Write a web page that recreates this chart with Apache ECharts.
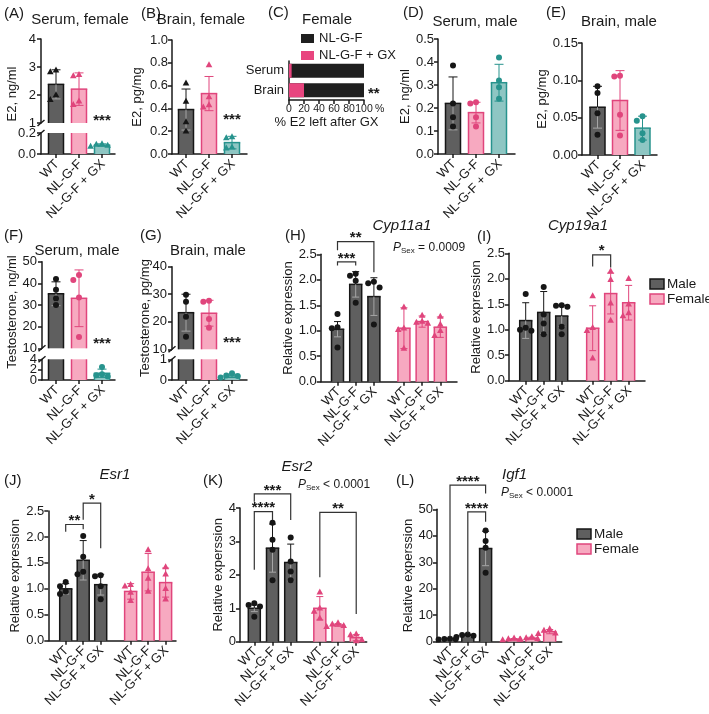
<!DOCTYPE html>
<html>
<head>
<meta charset="utf-8">
<script src="https://cdn.jsdelivr.net/npm/echarts@6/dist/echarts.min.js"></script>
<style>
  html, body { margin: 0; padding: 0; background: #fff; }
  #chart { width: 709px; height: 714px; }
</style>
</head>
<body>
<div id="chart"></div>
<script>
const groups3 = ['WT', 'NL-G-F', 'NL-G-F + GX'];
const groups6 = ['WT', 'NL-G-F', 'NL-G-F + GX', 'WT', 'NL-G-F', 'NL-G-F + GX'];

// (A) serum E2, female, ng/ml
const aMean = [2.38, 2.21, 0.085];
const aSD = [0.52, 0.58, 0.012];
const aPts = [[2.88, 2.82, 2.0, 1.83], [2.72, 2.68, 1.78, 1.65], [0.095, 0.09, 0.082, 0.072]];
const aStars = [[2, 1.21, '***']];

// (B) brain E2, female, pg/mg
const bMean = [0.39, 0.53, 0.10];
const bSD = [0.18, 0.15, 0.055];
const bPts = [[0.62, 0.46, 0.28, 0.20], [0.78, 0.50, 0.43, 0.41], [0.15, 0.14, 0.06, 0.05]];
const bStars = [[2, 0.325, '***']];

// (C) % E2 left after GX, female
const cCats = ['Serum', 'Brain'];
const cNL = [100, 100];
const cGX = [3.5, 20];
const cTicks = [0, 20, 40, 60, 80, 100];
const cStars = [[113, 1, '**']];

// (D) serum E2, male, ng/ml
const dMean = [0.22, 0.18, 0.31];
const dSD = [0.115, 0.045, 0.08];
const dPts = [[0.385, 0.22, 0.16, 0.12], [0.225, 0.22, 0.16, 0.12], [0.42, 0.32, 0.29, 0.24]];

// (E) brain E2, male, pg/mg
const eMean = [0.064, 0.073, 0.036];
const eSD = [0.028, 0.04, 0.016];
const ePts = [[0.092, 0.083, 0.056, 0.027], [0.106, 0.105, 0.054, 0.026], [0.052, 0.046, 0.029, 0.02]];

// (F) serum testosterone, male, ng/ml
const fMean = [35.2, 33.1, 1.3];
const fSD = [5.5, 13.1, 0.8];
const fPts = [[42, 37, 33, 30], [43.8, 41.5, 33.5, 15.2], [2.5, 1.1, 0.9, 0.7]];
const fStars = [[2, 13.8, '***']];

// (G) brain testosterone, male, pg/mg
const gMean = [23.3, 23.1, 0.2];
const gSD = [6.7, 4.7, 0.08];
const gPts = [[29.8, 27.3, 21.8, 14.6], [27.6, 27.3, 21.0, 17.8], [0.33, 0.22, 0.19, 0.12]];
const gStars = [[2, 13.4, '***']];

// (H) Cyp11a1, male x3 then female x3
const hMean = [1.03, 1.91, 1.67, 1.05, 1.18, 1.07];
const hSD = [0.15, 0.25, 0.37, 0.40, 0.11, 0.20];
const hPts = [[1.33, 1.07, 1.05, 0.67], [2.12, 2.08, 1.98, 1.55], [1.96, 1.93, 1.85, 1.12],
              [1.46, 1.05, 1.02, 0.65], [1.30, 1.18, 1.16, 1.14], [1.28, 1.12, 1.0, 0.9]];
const hSig = [[0, 1, 2.35, 2.28, 2.28, '***'], [0, 2, 2.75, 2.58, 2.15, '**']];

// (I) Cyp19a1
const iMean = [1.18, 1.34, 1.27, 1.03, 1.71, 1.53];
const iSD = [0.35, 0.41, 0.21, 0.44, 0.40, 0.34];
const iPts = [[1.70, 1.04, 1.0, 0.98], [1.84, 1.30, 1.12, 0.91], [1.48, 1.47, 1.45, 1.06, 0.91],
              [1.66, 1.04, 0.98, 0.44], [2.15, 1.98, 1.52, 1.18], [2.0, 1.5, 1.33, 1.27]];
const iSig = [[3, 4, 2.47, 2.24, 2.22, '*']];

// (J) Esr1
const jMean = [1.0, 1.55, 1.08, 0.95, 1.32, 1.12];
const jSD = [0.10, 0.38, 0.20, 0.15, 0.36, 0.28];
const jPts = [[1.13, 1.05, 0.95, 0.9], [2.02, 1.62, 1.33, 1.28], [1.26, 1.24, 1.05, 0.8],
              [1.08, 1.05, 0.93, 0.77], [1.75, 1.38, 1.2, 0.95], [1.42, 1.28, 1.0, 0.8]];
const jSig = [[0, 1, 2.24, 2.1, 2.15, '**'], [1, 2, 2.65, 2.33, 1.78, '*']];

// (K) Esr2
const kMean = [1.0, 2.8, 2.37, 1.0, 0.5, 0.12];
const kSD = [0.10, 0.72, 0.55, 0.35, 0.04, 0.09];
const kPts = [[1.15, 1.1, 1.05, 0.75], [3.56, 3.05, 2.75, 1.84], [3.12, 2.4, 2.1, 1.84],
              [1.48, 1.0, 0.9, 0.7], [0.56, 0.52, 0.48, 0.45], [0.22, 0.2, 0.05, 0.02]];
const kSig = [[0, 1, 3.89, 2.15, 3.64, '****'], [0, 2, 4.42, 4.19, 3.64, '***'], [3, 5, 3.87, 1.93, 0.83, '**']];

// (L) Igf1
const lMean = [1.0, 2.3, 35.2, 0.9, 1.3, 3.8];
const lSD = [0.15, 0.4, 6.5, 0.3, 0.4, 0.8];
const lPts = [[1.1, 1.0, 0.9, 0.8], [2.7, 2.5, 2.2, 1.8], [42, 38, 35.5, 26],
              [1.3, 1.0, 0.8, 0.6], [1.8, 1.4, 1.1, 0.9], [4.8, 4.2, 3.2, 3.0]];
const lSig = [[0, 2, 59.1, 1.9, 56, '****'], [1, 2, 49, 3.2, 45.3, '****']];

const FONT = '"Liberation Sans", Arial, Helvetica, sans-serif';
const INK = '#1a1a1a';
const ST = {
  wt: {fill: '#5f5f5f', line: '#161616', inner: '#a5a5a5', pt: '#161616'},
  nl: {fill: '#f7a9c0', line: '#e0457c', inner: '#e0457c', pt: '#e0457c'},
  gx: {fill: '#8ec6c3', line: '#27938d', inner: '#27938d', pt: '#27938d'}
};
const triStyles = [ST.wt, ST.nl, ST.gx];
const sexStyles = [ST.wt, ST.wt, ST.wt, ST.nl, ST.nl, ST.nl];

const grids = [], xAxes = [], yAxes = [], series = [], graphics = [];

function txt(x, y, text, o = {}) {
  const align = o.align || 'left';
  graphics.push({
    type: 'text', x, y, rotation: o.rot || 0, silent: true,
    style: {
      text, font: o.font || `15px ${FONT}`, fill: INK,
      align, textAlign: align, verticalAlign: 'middle', textVerticalAlign: 'middle',
      rich: o.rich
    }
  });
}

// text element for custom series
function label(x, y, text, font, align, rot) {
  return {type: 'text', x, y, rotation: rot || 0,
          style: {text, font, fill: INK, align, textAlign: align, verticalAlign: 'middle', textVerticalAlign: 'middle'}};
}

function symbol(shape, x, y, r, color) {
  if (shape === 'triangle') {
    return {type: 'polygon', shape: {points: [[x, y - r * 1.25], [x - r * 1.1, y + r * 0.75], [x + r * 1.1, y + r * 0.75]]},
            style: {fill: color}};
  }
  return {type: 'circle', shape: {cx: x, cy: y, r}, style: {fill: color}};
}

const starFont = `bold 15px ${FONT}`;
const tickFont = `13px ${FONT}`;

function addPanel(p) {
  const gap = p.gap || 1;
  const pos = p.mean.map((_, i) => i < 3 ? i : i - 1 + gap);
  const xMin = -(p.firstC - p.axisX) / p.S;
  const xMax = xMin + (p.endX - p.axisX) / p.S;
  const broken = p.segs.length > 1;
  const segOf = v => p.segs.find(s => v >= s.min && v <= s.max);
  const pxY = v => {
    const s = segOf(v) || p.segs[0];
    return s.top + (s.max - v) / (s.max - s.min) * s.height;
  };
  const step = p.r * 1.9;
  const jitter = p.pts.map(list => {
    const placed = [];
    return list.map(v => {
      const y = pxY(v);
      let d = [0, -1, 1, -2, 2].map(k => k * step)
        .find(c => placed.every(q => Math.hypot(q[0] - c, q[1] - y) >= step));
      if (d === undefined) d = 0;
      placed.push([d, y]);
      return d;
    });
  });

  p.segs.forEach((s, k) => {
    const gi = grids.length;
    const bottom = k === p.segs.length - 1;
    grids.push({left: p.axisX, top: s.top, width: p.endX - p.axisX, height: s.height});
    xAxes.push({
      gridIndex: gi, type: 'value', min: xMin, max: xMax,
      axisLine: {show: bottom, onZero: false, lineStyle: {color: INK, width: 1.5}},
      axisTick: {show: bottom, customValues: pos, length: 4, lineStyle: {color: INK, width: 1.5}},
      axisLabel: {show: false},
      splitLine: {show: false}
    });
    yAxes.push({
      gridIndex: gi, type: 'value', min: s.min, max: s.max, interval: s.interval,
      axisLine: {show: true, onZero: false, lineStyle: {color: INK, width: 1.5}},
      axisTick: {show: true, length: 4, lineStyle: {color: INK, width: 1.5}},
      axisLabel: {show: !broken, color: INK, fontSize: 13, fontFamily: FONT, margin: 4,
                  showMinLabel: true, showMaxLabel: true, formatter: v => v.toFixed(s.dec)},
      splitLine: {show: false},
      name: (k === 0 && p.yName) ? p.yName : '',
      nameLocation: 'middle', nameGap: p.nameGap || 25,
      nameTextStyle: {color: INK, fontSize: 13, fontFamily: FONT}
    });
    const xy = {xAxisIndex: gi, yAxisIndex: gi, silent: true};

    // bars
    series.push({
      type: 'custom', ...xy, z: 2,
      data: p.mean.map((m, i) => [pos[i], m]),
      renderItem: (params, api) => {
        const v = api.value(1);
        if (v <= s.min) return;
        const st = p.styles[params.dataIndex];
        const clipped = v > s.max;
        const c = api.coord([api.value(0), Math.min(v, s.max)]);
        const b = api.coord([api.value(0), s.min]);
        const l = c[0] - p.barW / 2, r = c[0] + p.barW / 2;
        const ls = {stroke: st.line, lineWidth: 1.5};
        const ch = [
          {type: 'rect', shape: {x: l, y: c[1], width: p.barW, height: b[1] - c[1]}, style: {fill: st.fill}},
          {type: 'line', shape: {x1: l, y1: b[1], x2: l, y2: c[1]}, style: ls},
          {type: 'line', shape: {x1: r, y1: b[1], x2: r, y2: c[1]}, style: ls}
        ];
        if (!clipped) ch.push({type: 'line', shape: {x1: l - 0.75, y1: c[1], x2: r + 0.75, y2: c[1]}, style: ls});
        return {type: 'group', children: ch};
      }
    });

    // error bars (mean +/- SD)
    series.push({
      type: 'custom', ...xy, z: 3,
      data: p.mean.map((m, i) => [pos[i], m, p.sd[i]]),
      renderItem: (params, api) => {
        const x = api.value(0), m = api.value(1), sd = api.value(2);
        if (m < s.min || m > s.max) return;
        const st = p.styles[params.dataIndex];
        const cm = api.coord([x, m]);
        const hiV = Math.min(m + sd, s.max), loV = Math.max(m - sd, s.min);
        const ch = api.coord([x, hiV]), cl = api.coord([x, loV]);
        const w = p.capW / 2;
        const out = [
          {type: 'line', shape: {x1: cm[0], y1: cm[1], x2: ch[0], y2: ch[1]}, style: {stroke: st.line, lineWidth: 1}},
          {type: 'line', shape: {x1: cm[0], y1: cm[1], x2: cl[0], y2: cl[1]}, style: {stroke: st.inner, lineWidth: 1}}
        ];
        if (m + sd <= s.max) out.push({type: 'line', shape: {x1: ch[0] - w, y1: ch[1], x2: ch[0] + w, y2: ch[1]}, style: {stroke: st.line, lineWidth: 1}});
        if (m - sd >= s.min) out.push({type: 'line', shape: {x1: cl[0] - w, y1: cl[1], x2: cl[0] + w, y2: cl[1]}, style: {stroke: st.inner, lineWidth: 1}});
        return {type: 'group', children: out};
      }
    });

    // individual animals
    const ptData = [];
    p.pts.forEach((list, i) => list.forEach((v, j) => ptData.push([pos[i], v, i, jitter[i][j]])));
    series.push({
      type: 'custom', ...xy, z: 4,
      data: ptData,
      renderItem: (params, api) => {
        const v = api.value(1);
        if (v < s.min || v > s.max) return;
        const i = api.value(2);
        const c = api.coord([api.value(0), v]);
        return symbol(p.shapes[i], c[0] + api.value(3), c[1], p.r, p.styles[i].pt);
      }
    });

    // group names under the bottom axis, rotated 45 degrees
    if (bottom) {
      series.push({
        type: 'custom', ...xy, z: 5,
        data: pos.map(x => [x, s.min]),
        renderItem: (params, api) => {
          const c = api.coord([api.value(0), api.value(1)]);
          return label(c[0] + 1, c[1] + 8, p.names[params.dataIndex], tickFont, 'right', Math.PI / 4);
        }
      });
    }

    // tick labels of a broken axis
    if (broken) {
      const ticks = [];
      for (let v = s.min; v <= s.max + 1e-9; v += s.interval) ticks.push(+v.toFixed(6));
      series.push({
        type: 'custom', ...xy, z: 5,
        data: ticks.map(v => [xMin, v]),
        renderItem: (params, api) => {
          const c = api.coord([api.value(0), api.value(1)]);
          return label(c[0] - 5, c[1], api.value(1).toFixed(s.dec), tickFont, 'right');
        }
      });
      const yb = k === 0 ? s.top + s.height : s.top;
      graphics.push({type: 'line', silent: true, shape: {x1: p.axisX - 3.5, y1: yb + 3, x2: p.axisX + 3.5, y2: yb - 3},
                     style: {stroke: INK, lineWidth: 1.5}});
    }

    // significance: brackets between groups
    if (k === 0 && p.sig) {
      series.push({
        type: 'custom', ...xy, z: 5,
        data: p.sig.map(b => [pos[b[0]], pos[b[1]], b[2], b[3], b[4]]),
        renderItem: (params, api) => {
          const x1 = api.value(0), x2 = api.value(1), yt = api.value(2);
          const a = api.coord([x1, yt]), b = api.coord([x2, yt]);
          const a2 = api.coord([x1, api.value(3)]), b2 = api.coord([x2, api.value(4)]);
          return {type: 'group', children: [
            {type: 'polyline', shape: {points: [a2, a, b, b2]}, style: {stroke: '#333', lineWidth: 1.2, fill: null}},
            label((a[0] + b[0]) / 2, a[1] - 3.5, p.sig[params.dataIndex][5], starFont, 'center')
          ]};
        }
      });
    }
    // significance vs. the other groups (stars beside a single bar)
    if (p.stars) {
      const inSeg = p.stars.filter(t => t[1] >= s.min && t[1] <= s.max);
      if (inSeg.length) {
        series.push({
          type: 'custom', ...xy, z: 5,
          data: inSeg.map(t => [pos[t[0]], t[1]]),
          renderItem: (params, api) => {
            const c = api.coord([api.value(0), api.value(1)]);
            return label(c[0], c[1] + 3.3, inSeg[params.dataIndex][2], starFont, 'center');
          }
        });
      }
    }
  });
}

const tri3 = ['triangle', 'triangle', 'triangle'];
const cir3 = ['circle', 'circle', 'circle'];
const sex6 = ['circle', 'circle', 'circle', 'triangle', 'triangle', 'triangle'];
const small = {barW: 15, capW: 9, r: 3, names: groups3, styles: triStyles};
const wide = {barW: 12, capW: 7, r: 3, names: groups6, styles: sexStyles, shapes: sex6};

addPanel({...small, shapes: tri3, mean: aMean, sd: aSD, pts: aPts, stars: aStars,
  axisX: 41, firstC: 56, S: 23, endX: 115,
  segs: [{top: 39, height: 84, min: 1, max: 4, interval: 1, dec: 0},
         {top: 133, height: 21, min: 0, max: 0.2, interval: 0.2, dec: 1}]});
addPanel({...small, shapes: tri3, mean: bMean, sd: bSD, pts: bPts, stars: bStars,
  axisX: 172, firstC: 186, S: 23, endX: 247, yName: 'E2, pg/mg', nameGap: 28,
  segs: [{top: 40, height: 114, min: 0, max: 1, interval: 0.2, dec: 1}]});
addPanel({...small, shapes: cir3, mean: dMean, sd: dSD, pts: dPts,
  axisX: 438, firstC: 453, S: 23, endX: 515, yName: 'E2, ng/ml', nameGap: 26,
  segs: [{top: 39, height: 115, min: 0, max: 0.5, interval: 0.1, dec: 1}]});
addPanel({...small, shapes: cir3, mean: eMean, sd: eSD, pts: ePts,
  axisX: 582, firstC: 597.5, S: 22.5, endX: 657, yName: 'E2, pg/mg', nameGap: 32,
  segs: [{top: 43, height: 112, min: 0, max: 0.15, interval: 0.05, dec: 2}]});
addPanel({...small, shapes: cir3, mean: fMean, sd: fSD, pts: fPts, stars: fStars,
  axisX: 42, firstC: 56, S: 23, endX: 115,
  segs: [{top: 261.7, height: 86.6, min: 10, max: 50, interval: 10, dec: 0},
         {top: 359.3, height: 20.7, min: 0, max: 4, interval: 2, dec: 0}]});
addPanel({...small, shapes: cir3, mean: gMean, sd: gSD, pts: gPts, stars: gStars,
  axisX: 172, firstC: 186, S: 23, endX: 247,
  segs: [{top: 266.7, height: 82.6, min: 10, max: 40, interval: 10, dec: 0},
         {top: 359.3, height: 20.7, min: 0, max: 1, interval: 1, dec: 0}]});
addPanel({...wide, mean: hMean, sd: hSD, pts: hPts, sig: hSig,
  axisX: 320.7, firstC: 337.5, S: 18.2, gap: 1.65, endX: 457, yName: 'Relative expression', nameGap: 23,
  segs: [{top: 254.3, height: 127.4, min: 0, max: 2.5, interval: 0.5, dec: 1}]});
addPanel({...wide, mean: iMean, sd: iSD, pts: iPts, sig: iSig,
  axisX: 509, firstC: 525.7, S: 18, gap: 1.72, endX: 645, yName: 'Relative expression', nameGap: 24,
  segs: [{top: 253.3, height: 127.4, min: 0, max: 2.5, interval: 0.5, dec: 1}]});
addPanel({...wide, mean: jMean, sd: jSD, pts: jPts, sig: jSig,
  axisX: 48.3, firstC: 65.7, S: 17.5, gap: 1.71, endX: 176, yName: 'Relative expression', nameGap: 26,
  segs: [{top: 511, height: 129.7, min: 0, max: 2.5, interval: 0.5, dec: 1}]});
addPanel({...wide, mean: kMean, sd: kSD, pts: kPts, sig: kSig,
  axisX: 240, firstC: 254.3, S: 18.2, gap: 1.6, endX: 366.7, yName: 'Relative experssion', nameGap: 14,
  segs: [{top: 508, height: 133.7, min: 0, max: 4, interval: 1, dec: 0}]});
addPanel({...wide, mean: lMean, sd: lSD, pts: lPts, sig: lSig,
  axisX: 437, firstC: 450, S: 17.8, gap: 1.6, endX: 561.7, yName: 'Relative experssion', nameGap: 22,
  segs: [{top: 509.3, height: 132.4, min: 0, max: 50, interval: 10, dec: 0}]});

// (C) horizontal bars
const cGrid = grids.length;
grids.push({left: 289, top: 61, width: 75, height: 39});
xAxes.push({
  gridIndex: cGrid, type: 'value', min: 0, max: 100, interval: 20,
  axisLine: {show: true, onZero: false, lineStyle: {color: INK, width: 1.5}},
  axisTick: {show: true, length: 4, lineStyle: {color: INK, width: 1.5}},
  axisLabel: {show: false},
  splitLine: {show: false},
  name: '% E2 left after GX', nameLocation: 'middle', nameGap: 16,
  nameTextStyle: {color: INK, fontSize: 13, fontFamily: FONT}
});
yAxes.push({
  gridIndex: cGrid, type: 'category', data: cCats, inverse: true,
  axisLine: {show: true, onZero: false, lineStyle: {color: INK, width: 1.5}},
  axisTick: {show: false},
  axisLabel: {color: INK, fontSize: 13, fontFamily: FONT, margin: 5}
});
series.push({name: 'NL-G-F', type: 'bar', xAxisIndex: cGrid, yAxisIndex: cGrid, data: cNL,
  barWidth: 14, barGap: '-100%', itemStyle: {color: '#1f1f1f'}, silent: true});
series.push({name: 'NL-G-F + GX', type: 'bar', xAxisIndex: cGrid, yAxisIndex: cGrid, data: cGX,
  barWidth: 14, itemStyle: {color: '#e8457f'}, silent: true});
series.push({type: 'custom', xAxisIndex: cGrid, yAxisIndex: cGrid, silent: true, z: 5,
  data: cStars.map(t => [t[0], t[1]]),
  renderItem: (params, api) => {
    const c = api.coord([api.value(0), api.value(1)]);
    return label(c[0], c[1] + 3.3, cStars[params.dataIndex][2], starFont, 'center');
  }});
series.push({type: 'custom', xAxisIndex: cGrid, yAxisIndex: cGrid, silent: true, z: 5,
  data: cTicks.map(v => [v, cCats.length - 1]),
  renderItem: (params, api) => {
    const c = api.coord([api.value(0), api.value(1)]);
    const band = api.size([0, 1])[1];
    return label(c[0], c[1] + band / 2 + 9, String(api.value(0)), `10.5px ${FONT}`, 'center');
  }});

// panel letters and titles
[['(A)', 4, 14], ['(B)', 141, 14], ['(C)', 268, 13], ['(D)', 403, 13], ['(E)', 546, 13],
 ['(F)', 4, 236], ['(G)', 140, 236], ['(H)', 285, 236], ['(I)', 477, 237],
 ['(J)', 4, 481], ['(K)', 203, 481], ['(L)', 396, 481]].forEach(t => txt(t[1], t[2], t[0]));
txt(80, 20, 'Serum, female', {align: 'center'});
txt(201, 20, 'Brain, female', {align: 'center'});
txt(327, 20, 'Female', {align: 'center'});
txt(475, 22, 'Serum, male', {align: 'center'});
txt(619, 22, 'Brain, male', {align: 'center'});
txt(77, 251, 'Serum, male', {align: 'center'});
txt(208, 251, 'Brain, male', {align: 'center'});
txt(402, 226, 'Cyp11a1', {align: 'center', font: `italic 15px ${FONT}`});
txt(578, 226, 'Cyp19a1', {align: 'center', font: `italic 15px ${FONT}`});
txt(115, 475, 'Esr1', {align: 'center', font: `italic 15px ${FONT}`});
txt(297, 467, 'Esr2', {align: 'center', font: `italic 15px ${FONT}`});
txt(502, 475, 'Igf1', {font: `italic 15px ${FONT}`});

const pRich = {
  p: {fontSize: 12, fontStyle: 'italic', fontFamily: FONT, fill: INK, color: INK, lineHeight: 15, verticalAlign: 'middle'},
  s: {fontSize: 8, fontFamily: FONT, fill: INK, color: INK, lineHeight: 15, padding: [6, 0, 0, 0], verticalAlign: 'middle'},
  t: {fontSize: 12, fontFamily: FONT, fill: INK, color: INK, lineHeight: 15, verticalAlign: 'middle'}
};
txt(393, 248, '{p|P}{s|Sex}{t| = 0.0009}', {rich: pRich});
txt(298, 485, '{p|P}{s|Sex}{t| < 0.0001}', {rich: pRich});
txt(501, 493, '{p|P}{s|Sex}{t| < 0.0001}', {rich: pRich});

// y names of broken axes
txt(12, 94, 'E2, ng/ml', {align: 'center', rot: Math.PI / 2, font: `13px ${FONT}`});
txt(12, 312, 'Testosterone, ng/ml', {align: 'center', rot: Math.PI / 2, font: `13px ${FONT}`});
txt(145, 318, 'Testosterone, pg/mg', {align: 'center', rot: Math.PI / 2, font: `13px ${FONT}`});

// '%' unit after the 100 tick in (C)
txt(375, 109, '%', {font: `10.5px ${FONT}`});

// Male / Female keys
function key(x, y) {
  [[ST.wt, 'Male'], [ST.nl, 'Female']].forEach((e, i) => {
    graphics.push({type: 'rect', silent: true, shape: {x, y: y + i * 15 - 5, width: 14, height: 10},
                   style: {fill: e[0].fill, stroke: e[0].line, lineWidth: 1.5}});
    txt(x + 17, y + i * 15, e[1], {font: `13.5px ${FONT}`});
  });
}
key(650, 284);
key(577, 534);

const chart = echarts.init(document.getElementById('chart'));
chart.setOption({
  animation: false,
  backgroundColor: '#fff',
  textStyle: {fontFamily: FONT},
  grid: grids,
  xAxis: xAxes,
  yAxis: yAxes,
  legend: {
    data: ['NL-G-F', 'NL-G-F + GX'], orient: 'vertical', left: 296, top: 27,
    icon: 'rect', itemWidth: 13, itemHeight: 9, itemGap: 4,
    textStyle: {color: INK, fontSize: 13, fontFamily: FONT}, selectedMode: false
  },
  series,
  graphic: graphics
});
</script>
</body>
</html>
